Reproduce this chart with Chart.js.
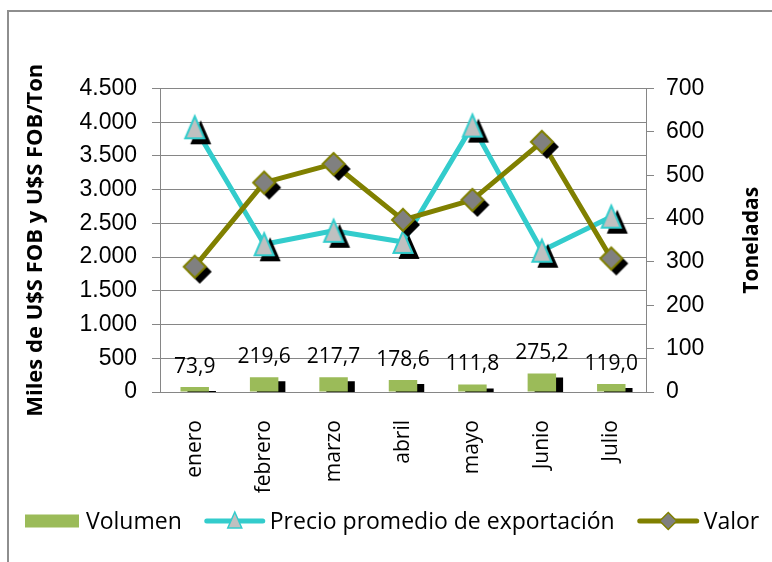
<!DOCTYPE html>
<html><head><meta charset="utf-8">
<script src="https://cdn.jsdelivr.net/npm/chart.js@4.4.1/dist/chart.umd.min.js"></script>
<style>
html,body{margin:0;padding:0;background:#fff;}
#wrap{position:relative;width:772px;height:562px;overflow:hidden;}
#frame{position:absolute;left:7px;top:10px;width:900px;height:700px;border-left:2px solid #8e8e8e;border-top:2px solid #8e8e8e;pointer-events:none;}
canvas{position:absolute;left:0;top:0;}
</style></head><body>
<div id="wrap"><canvas id="c" width="772" height="562" style="width:772px;height:562px"></canvas><div id="frame"></div></div>
<script>
const months = ['enero','febrero','marzo','abril','mayo','Junio','Julio'];
const volumen = [73.9, 219.6, 217.7, 178.6, 111.8, 275.2, 119.0];
const precio = [3925, 2190, 2390, 2225, 3950, 2095, 2600];
const valor = [289, 483, 526, 397, 443, 577, 308];
const leftTickValues = [0,500,1000,1500,2000,2500,3000,3500,4000,4500];
const leftTickLabels = ['0','500','1.000','1.500','2.000','2.500','3.000','3.500','4.000','4.500'];
const rightTickLabels = ['0','100','200','300','400','500','600','700'];
const seriesNames = ['Volumen','Precio promedio de exportación','Valor'];
const leftTitle = 'Miles de U$S FOB y U$S FOB/Ton';
const rightTitle = 'Toneladas';

const C_BAR='#9BBB59', C_CYAN='#33CCCC', C_OLIVE='#808000', C_TRI='#C0C0C0', C_DIA='#808080';

function makeCanvas(w,h){const c=document.createElement('canvas');c.width=w;c.height=h;return c;}
function triPath(ctx,cx,cy,hw,hh){ctx.beginPath();ctx.moveTo(cx,cy-hh);ctx.lineTo(cx+hw,cy+hh);ctx.lineTo(cx-hw,cy+hh);ctx.closePath();}
function diaPath(ctx,cx,cy,r){ctx.beginPath();ctx.moveTo(cx,cy-r);ctx.lineTo(cx+r,cy);ctx.lineTo(cx,cy+r);ctx.lineTo(cx-r,cy);ctx.closePath();}

const triMarker=(()=>{const c=makeCanvas(44,44),x=c.getContext('2d');
  x.fillStyle='#000';triPath(x,22+6,22+5,10.5,12);x.fill();
  triPath(x,22,22,9.5,11);x.fillStyle=C_TRI;x.fill();x.lineWidth=2;x.strokeStyle=C_CYAN;x.stroke();return c;})();
const diaMarker=(()=>{const c=makeCanvas(44,44),x=c.getContext('2d');
  x.fillStyle='#000';diaPath(x,22+5,22+5,12);x.fill();
  diaPath(x,22,22,11);x.fillStyle=C_DIA;x.fill();x.lineWidth=2;x.strokeStyle=C_OLIVE;x.stroke();return c;})();

const volumenLabels = volumen.map(v=>v.toFixed(1).replace('.',','));

const barShadow={id:'barShadow',
  beforeDatasetDraw(chart,args){if(args.index!==0)return;const c=chart.ctx;c.save();c.shadowColor='#000';c.shadowOffsetX=7;c.shadowOffsetY=4;c.shadowBlur=0;},
  afterDatasetDraw(chart,args){if(args.index!==0)return;chart.ctx.restore();}};
const barLabels={id:'barLabels',afterDatasetsDraw(chart){const meta=chart.getDatasetMeta(0);const ctx=chart.ctx;ctx.save();
  ctx.font='21px "Open Sans"';ctx.fillStyle='#000';ctx.textAlign='center';ctx.textBaseline='alphabetic';
  meta.data.forEach((bar,i)=>{ctx.fillText(volumenLabels[i],bar.x,bar.y-14);});ctx.restore();}};
const rightTitlePlugin={id:'rightTitle',afterDraw(chart){const ctx=chart.ctx;const a=chart.chartArea;ctx.save();
  ctx.translate(752.5,(a.top+a.bottom)/2);ctx.rotate(-Math.PI/2);ctx.font='bold 21px "Open Sans"';ctx.fillStyle='#000';
  ctx.textAlign='center';ctx.textBaseline='middle';ctx.fillText(rightTitle,0,0);ctx.restore();}};
const legendPlugin={id:'customLegend',afterDraw(chart){const ctx=chart.ctx;ctx.save();
  ctx.font='23px "Open Sans"';ctx.fillStyle='#000';ctx.textBaseline='middle';ctx.textAlign='left';
  const cy=521;let x=25;
  // Volumen
  ctx.fillStyle=C_BAR;ctx.fillRect(x,cy-6.5,54,13);x+=54+7;
  ctx.fillStyle='#000';ctx.fillText(seriesNames[0],x,cy+1);x+=ctx.measureText(seriesNames[0]).width+23;
  // Precio
  ctx.strokeStyle=C_CYAN;ctx.lineWidth=5;ctx.lineCap='round';ctx.beginPath();ctx.moveTo(x+2,cy);ctx.lineTo(x+58,cy);ctx.stroke();
  triPath(ctx,x+30,cy-1,7,8);ctx.fillStyle=C_TRI;ctx.fill();ctx.lineWidth=1.5;ctx.strokeStyle=C_CYAN;ctx.stroke();x+=60+5;
  ctx.fillStyle='#000';ctx.fillText(seriesNames[1],x,cy+1);x+=ctx.measureText(seriesNames[1]).width+23;
  // Valor
  ctx.strokeStyle=C_OLIVE;ctx.lineWidth=5;ctx.lineCap='round';ctx.beginPath();ctx.moveTo(x+2,cy);ctx.lineTo(x+59,cy);ctx.stroke();
  diaPath(ctx,x+30.5,cy,8.5);ctx.fillStyle=C_DIA;ctx.fill();ctx.lineWidth=1.5;ctx.strokeStyle=C_OLIVE;ctx.stroke();x+=61+5;
  ctx.fillStyle='#000';ctx.fillText(seriesNames[2],x,cy+1);
  ctx.restore();}};

function draw(){
new Chart(document.getElementById('c'),{
  type:'bar',
  data:{labels:months,datasets:[
    {type:'bar',label:seriesNames[0],data:volumen,backgroundColor:C_BAR,yAxisID:'y',order:3,barPercentage:0.41,categoryPercentage:1},
    {type:'line',label:seriesNames[1],data:precio,borderColor:C_CYAN,backgroundColor:C_CYAN,borderWidth:5,pointStyle:triMarker,pointRadius:10,pointHoverRadius:10,yAxisID:'y',order:2,tension:0,borderJoinStyle:'round'},
    {type:'line',label:seriesNames[2],data:valor,borderColor:C_OLIVE,backgroundColor:C_OLIVE,borderWidth:5,pointStyle:diaMarker,pointRadius:10,pointHoverRadius:10,yAxisID:'y1',order:1,tension:0,borderJoinStyle:'round'}
  ]},
  options:{
    responsive:false,animation:false,
    layout:{padding:{left:20,right:0,top:88.5,bottom:0}},
    plugins:{tooltip:{enabled:false},legend:{display:false}},
    scales:{
      x:{offset:true,grid:{display:false,drawTicks:false},border:{display:true,color:'#868686',width:1},
        ticks:{minRotation:90,maxRotation:90,padding:28,color:'#000',font:{family:'Open Sans',size:21}},
        afterFit:s=>{s.height=170;}},
      y:{position:'left',min:0,max:4500,
        ticks:{stepSize:500,autoSkip:false,padding:15,color:'#000',font:{family:'Liberation Sans',size:23},callback:(v)=>leftTickLabels[leftTickValues.indexOf(v)]},
        grid:{color:'#868686',tickLength:8,lineWidth:1},border:{color:'#868686',width:1},
        title:{display:true,text:leftTitle,color:'#000',font:{family:'Open Sans',size:22,weight:'bold'},padding:{top:2.8,bottom:0}},
        afterFit:s=>{s.width=140;}},
      y1:{position:'right',min:0,max:700,
        ticks:{stepSize:100,autoSkip:false,padding:12,color:'#000',font:{family:'Liberation Sans',size:23},callback:(v)=>rightTickLabels[Math.round(v/100)]},
        grid:{drawOnChartArea:false,color:'#868686',tickLength:8},border:{color:'#868686',width:1},
        afterFit:s=>{s.width=126;}}
    }
  },
  plugins:[barShadow,barLabels,rightTitlePlugin,legendPlugin]
});
}
Promise.all([
  document.fonts.load('23px "Open Sans"'),
  document.fonts.load('bold 22px "Open Sans"'),
  document.fonts.load('23px "Liberation Sans"')
]).then(draw,draw);
</script>
</body></html>
